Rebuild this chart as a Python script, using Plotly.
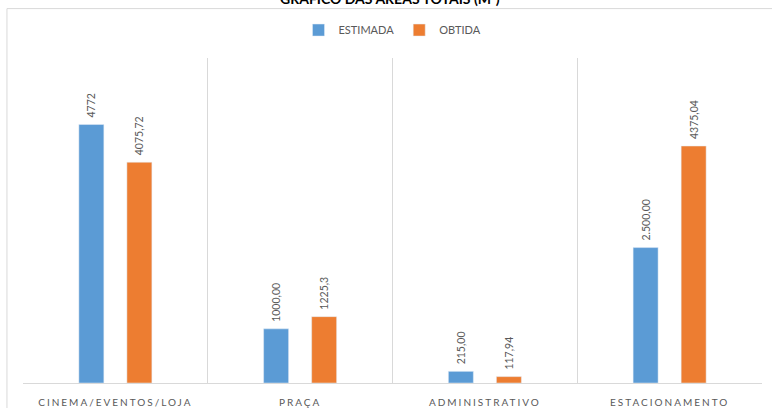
import plotly.graph_objects as go

categories = ["CINEMA/EVENTOS/LOJA", "PRAÇA", "ADMINISTRATIVO", "ESTACIONAMENTO"]
estimada = [4772, 1000.00, 215.00, 2500.00]
obtida = [4075.72, 1225.3, 117.94, 4375.04]
estimada_labels = ["4772", "1000,00", "215,00", "2.500,00"]
obtida_labels = ["4075,72", "1225,3", "117,94", "4375,04"]
title_text = "GRÁFICO DAS ÁREAS TOTAIS (M²)"

FONT = "Lato"
GRAY = "#595959"

fig = go.Figure()
fig.add_bar(x=categories, y=estimada, name="ESTIMADA", marker_color="#5B9BD5",
            text=estimada_labels, textposition="outside", textangle=-90,
            constraintext="none",
            textfont=dict(size=10.5, color=GRAY, family=FONT), cliponaxis=False)
fig.add_bar(x=categories, y=obtida, name="OBTIDA", marker_color="#ED7D31",
            text=obtida_labels, textposition="outside", textangle=-90,
            constraintext="none",
            textfont=dict(size=10.5, color=GRAY, family=FONT), cliponaxis=False)

fig.update_layout(
    width=772, height=408,
    margin=dict(l=23, r=10, t=58, b=25, autoexpand=False),
    paper_bgcolor="white", plot_bgcolor="white",
    barmode="group", bargap=0.48, bargroupgap=0.48,
    font=dict(family=FONT, color=GRAY),
    showlegend=True,
    legend=dict(orientation="h", x=0.5, xanchor="center", y=1.086, yanchor="middle",
                font=dict(size=11, color=GRAY, family=FONT), itemwidth=30,
                traceorder="normal"),
    xaxis=dict(tickson="boundaries", showgrid=True, gridcolor="#d9d9d9", gridwidth=1,
               showline=True, linecolor="#d9d9d9", ticks="", ticklen=0,
               tickfont=dict(size=10, color=GRAY, family=FONT),
               ticklabelstandoff=10, range=[-0.5, 3.5], fixedrange=True, automargin=False),
    yaxis=dict(range=[0, 6000], showgrid=False, showticklabels=False, zeroline=False,
               showline=False, ticks="", fixedrange=True, automargin=False),
    annotations=[dict(text="<b>" + title_text + "</b>", xref="paper", yref="paper",
                      x=0.497, y=1.184, xanchor="center", yanchor="middle", showarrow=False,
                      font=dict(size=14, color="black", family=FONT))],
    shapes=[dict(type="rect", xref="paper", yref="paper", x0=-0.0217, x1=1.03,
                 y0=-0.2, y1=1.152, line=dict(color="#d9d9d9", width=1), layer="below")],
)

post = """
document.body.style.margin='0';
document.body.style.overflow='hidden';
document.querySelectorAll('.xtick text').forEach(function(t){t.style.letterSpacing='2px';});
document.querySelectorAll('text.bartext').forEach(function(t){
  var tr = t.getAttribute('transform') || '';
  t.setAttribute('transform', 'translate(0,-4) ' + tr);
});
"""
fig.write_html("out.html", post_script=post, config={"displayModeBar": False})
